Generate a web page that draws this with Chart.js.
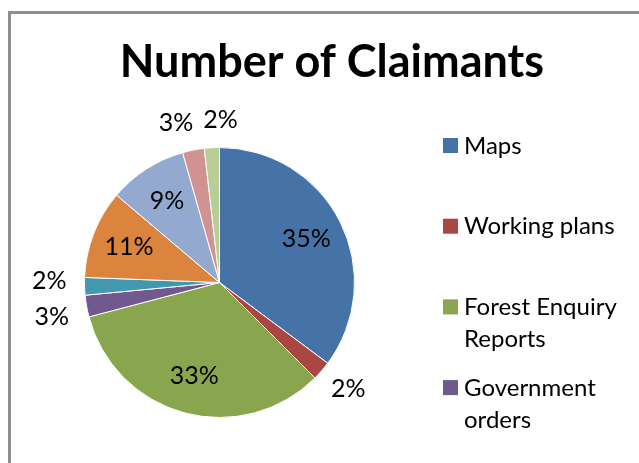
<!DOCTYPE html>
<html>
<head>
<meta charset="utf-8">
<script src="https://cdn.jsdelivr.net/npm/chart.js@4/dist/chart.umd.min.js"></script>
<style>
  html, body { margin: 0; padding: 0; background: #ffffff; }
  #wrap { position: relative; width: 639px; height: 463px; overflow: hidden; }
  #frame { position: absolute; left: 8px; top: 11px; width: 700px; height: 500px;
           border-left: 3px solid #8e8e8e; border-top: 3px solid #8e8e8e; box-sizing: border-box; }
  canvas { position: absolute; left: 0; top: 0; }
</style>
</head>
<body>
<div id="wrap">
  <div id="frame"></div>
  <canvas id="c" width="639" height="463"></canvas>
</div>
<script>
// ---- data ----
const TITLE = 'Number of Claimants';
const categories = ['Maps', 'Working plans', 'Forest Enquiry Reports', 'Government orders',
                    'Category 5', 'Category 6', 'Category 7', 'Category 8', 'Category 9'];
const shares = [35.2, 2.3, 33.4, 2.6, 2.1, 10.6, 9.4, 2.6, 1.8];
const colors = ['#4572A7', '#AA4643', '#89A54E', '#71588F', '#4198AF',
                '#DB843D', '#93A9CF', '#D19392', '#B9CD96'];

const FONT = 'Lato, "Open Sans", sans-serif';

const titlePlugin = {
  id: 'xlTitle',
  afterDraw(chart) {
    const ctx = chart.ctx;
    ctx.save();
    ctx.fillStyle = '#000';
    ctx.font = 'bold 45px ' + FONT;
    ctx.textAlign = 'center';
    ctx.textBaseline = 'alphabetic';
    ctx.fillText(TITLE, 332, 77);
    ctx.restore();
  }
};

function wrapText(ctx, text, maxW) {
  const words = text.split(' ');
  const lines = [];
  let cur = '';
  for (const w of words) {
    const t = cur ? cur + ' ' + w : w;
    if (cur && ctx.measureText(t).width > maxW) { lines.push(cur); cur = w; }
    else cur = t;
  }
  if (cur) lines.push(cur);
  return lines;
}

const legendPlugin = {
  id: 'xlLegend',
  afterDraw(chart) {
    const ctx = chart.ctx;
    const labels = chart.data.labels;
    const bg = chart.data.datasets[0].backgroundColor;
    ctx.save();
    ctx.font = '24px ' + FONT;
    ctx.textAlign = 'left';
    ctx.textBaseline = 'alphabetic';
    const x0 = 443, step = 80.7, lineH = 32;
    let cy = 145.5;
    for (let i = 0; i < labels.length; i++) {
      if (cy + 9 > chart.height) break;
      ctx.fillStyle = bg[i];
      ctx.fillRect(x0, cy - 7.5, 15, 15);
      ctx.fillStyle = '#000';
      const lines = wrapText(ctx, labels[i], 172);
      lines.forEach((ln, k) => ctx.fillText(ln, x0 + 21, cy + 8 + k * lineH));
      cy += step;
    }
    ctx.restore();
  }
};

const labelPlugin = {
  id: 'xlLabels',
  afterDatasetsDraw(chart) {
    const ctx = chart.ctx;
    const meta = chart.getDatasetMeta(0);
    const data = chart.data.datasets[0].data;
    const total = data.reduce((a, b) => a + b, 0);
    ctx.save();
    ctx.font = '25px ' + FONT;
    ctx.fillStyle = '#000';
    ctx.textAlign = 'center';
    ctx.textBaseline = 'middle';
    const items = [];
    const H = 20;
    meta.data.forEach((arc, i) => {
      const p = arc.getProps(['x', 'y', 'startAngle', 'endAngle', 'outerRadius'], true);
      const mid = (p.startAngle + p.endAngle) / 2;
      const c = Math.cos(mid), s = Math.sin(mid);
      const pct = data[i] / total * 100;
      const txt = Math.round(pct) + '%';
      const w = ctx.measureText(txt).width;
      const inside = pct >= 5;
      let x, y;
      if (inside) {
        const d = p.outerRadius * 0.72;
        x = p.x + c * d; y = p.y + s * d;
      } else {
        const d = p.outerRadius + 18;
        x = p.x + c * d + c * w / 2;
        y = p.y + s * d + s * H / 2;
      }
      items.push({ x, y, txt, inside, w, side: Math.abs(c) > Math.abs(s) });
    });
    // simple overlap resolution for outside labels
    const outs = items.filter(o => !o.inside);
    for (let a = 0; a < outs.length; a++) {
      for (let b = a + 1; b < outs.length; b++) {
        const A = outs[a], B = outs[b];
        const needX = (A.w + B.w) / 2 + 10, needY = 36;
        const dx = Math.abs(A.x - B.x), dy = Math.abs(A.y - B.y);
        if (dx < needX && dy < needY) {
          if (A.side && B.side) {
            const sh = (needY - dy) / 2;
            if (A.y < B.y) { A.y -= sh; B.y += sh; } else { A.y += sh; B.y -= sh; }
          } else {
            const sh = (needX - dx) / 2;
            if (A.x < B.x) { A.x -= sh; B.x += sh; } else { A.x += sh; B.x -= sh; }
          }
        }
      }
    }
    items.forEach(o => ctx.fillText(o.txt, o.x, o.y));
    ctx.restore();
  }
};

new Chart(document.getElementById('c'), {
  type: 'pie',
  data: {
    labels: categories,
    datasets: [{
      data: shares,
      backgroundColor: colors,
      borderColor: '#ffffff',
      borderWidth: 1
    }]
  },
  options: {
    responsive: false,
    animation: false,
    layout: { padding: { left: 84, right: 284, top: 147, bottom: 45 } },
    plugins: {
      legend: { display: false },
      title: { display: false },
      tooltip: { enabled: false }
    }
  },
  plugins: [labelPlugin, legendPlugin, titlePlugin]
});
</script>
</body>
</html>
